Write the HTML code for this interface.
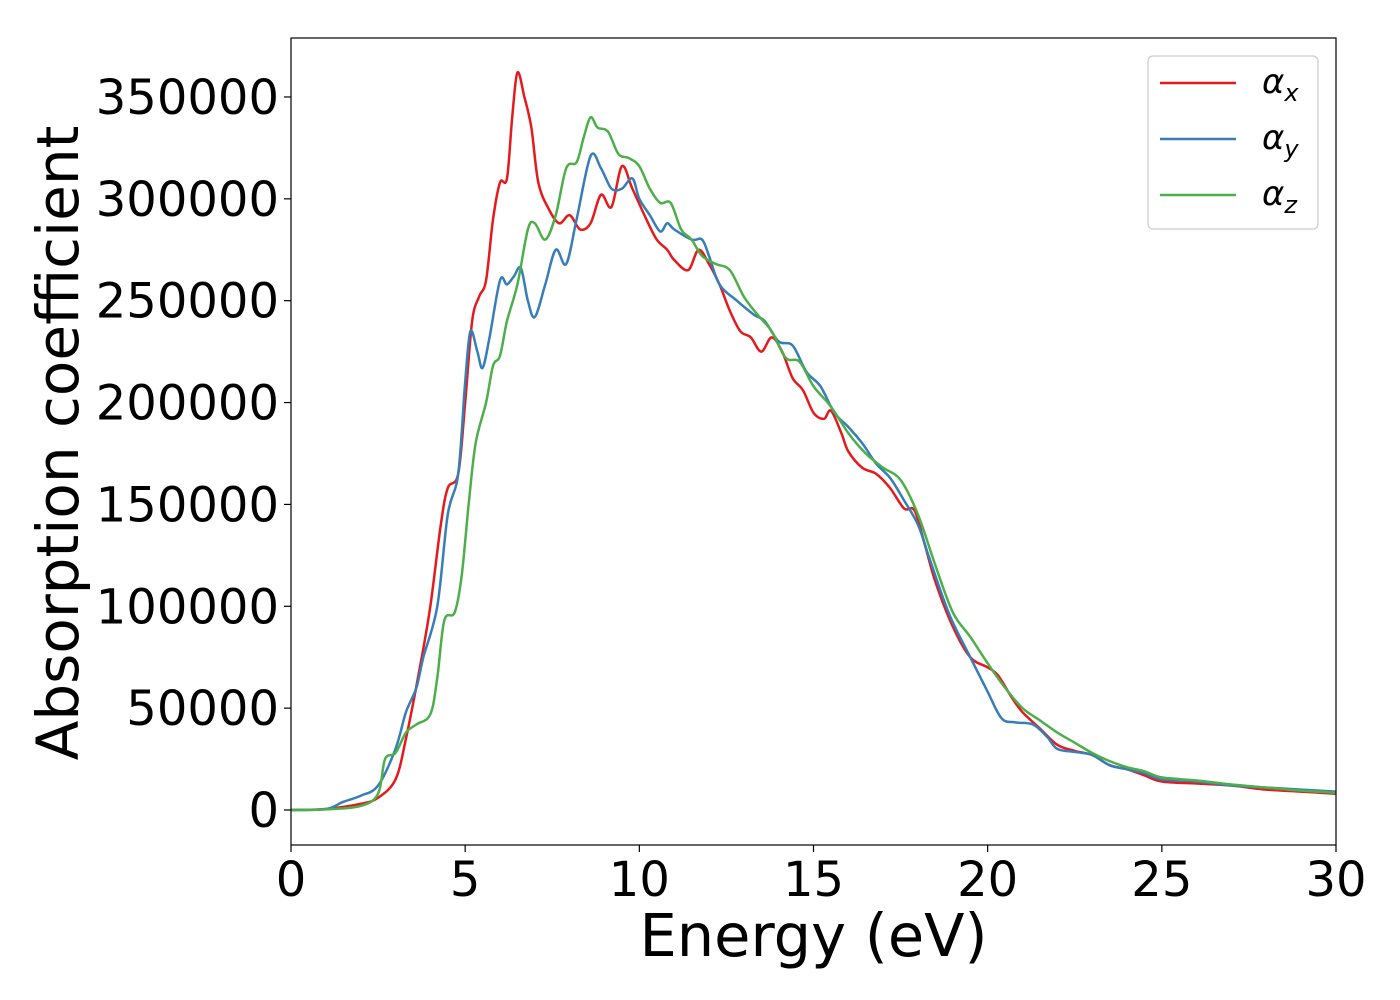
<!DOCTYPE html>
<html><head><meta charset="utf-8"><style>
html,body{margin:0;padding:0;background:#fff;width:1400px;height:1000px;overflow:hidden}
text{font-family:"DejaVu Sans","Liberation Sans",sans-serif}
</style></head><body>
<svg id="chart" width="1400" height="1000" xmlns="http://www.w3.org/2000/svg">
<g id="plot"></g>
</svg>
<script>
const xTicks=[0,5,10,15,20,25,30];
const yTicks=[0,50000,100000,150000,200000,250000,300000,350000];
const xE=[0,1,2,2.5,3,3.3,3.7,4,4.3,4.5,4.8,5,5.2,5.4,5.6,5.8,6,6.2,6.35,6.5,6.7,6.9,7.1,7.4,7.7,8,8.3,8.6,8.9,9.2,9.5,9.8,10.2,10.5,10.8,11,11.4,11.7,12,12.3,12.6,12.9,13.2,13.5,13.8,14.1,14.4,14.7,15,15.3,15.5,15.8,16,16.4,16.8,17.2,17.6,17.9,18.2,18.5,19,19.5,20,20.3,20.7,21,21.5,22,22.5,23,23.5,24,24.5,25,26,27,28,29,30];
const xV=[0,500,3000,6000,15000,35000,70000,100000,140000,158000,165000,200000,240000,252000,260000,290000,308000,310000,340000,362000,350000,335000,308000,295000,288000,292000,285000,288000,302000,296000,316000,305000,290000,280000,275000,270000,265000,275000,268000,258000,245000,235000,232000,225000,232000,225000,212000,206000,195000,192000,196000,185000,176000,168000,165000,158000,148000,147000,130000,112000,90000,75000,70000,66000,55000,48000,40000,32000,29000,27000,22000,20000,17000,14000,13000,12000,10000,9000,8000];
const yE=[0,1,1.5,2,2.5,3,3.3,3.6,3.8,4.2,4.5,4.8,5,5.15,5.35,5.5,5.7,6,6.2,6.4,6.6,6.8,7,7.3,7.6,7.9,8.2,8.6,8.9,9.2,9.5,9.8,10,10.3,10.6,10.8,11,11.5,11.8,12,12.3,12.8,13.3,13.6,14,14.4,14.8,15.2,15.6,16,16.4,16.8,17.2,17.6,18,18.3,18.7,19,19.5,20,20.4,20.8,21.3,21.7,22,22.5,23,23.5,24,24.5,25,26,27,28,29,30];
const yV=[0,500,4000,7000,12000,30000,48000,60000,75000,100000,145000,165000,210000,235000,225000,217000,232000,260000,258000,262000,266000,250000,242000,258000,275000,268000,290000,321000,315000,305000,305000,310000,300000,292000,284000,288000,285000,280000,280000,272000,258000,250000,243000,240000,230000,228000,215000,208000,195000,188000,180000,170000,163000,152000,140000,125000,105000,92000,75000,58000,45000,43000,42000,36000,30000,28500,27000,22000,20000,18000,15000,14000,12000,11000,10000,9000];
const zE=[0,1,2,2.5,2.7,3,3.3,3.6,4,4.2,4.4,4.7,4.9,5.1,5.3,5.6,5.8,6,6.2,6.5,6.8,7,7.3,7.6,7.9,8.2,8.4,8.6,8.8,9.1,9.4,9.7,10,10.3,10.6,10.9,11.2,11.5,11.8,12.2,12.6,13,13.4,13.8,14.2,14.6,15,15.5,16,16.5,17,17.5,18,18.5,19,19.5,20,20.5,21,21.5,22,22.5,23,23.5,24,24.5,25,26,27,28,29,30];
const zV=[0,300,2000,8000,25000,28000,38000,42000,47000,65000,93000,97000,115000,150000,180000,200000,218000,223000,240000,258000,285000,288000,280000,292000,315000,318000,330000,340000,335000,333000,322000,320000,316000,305000,298000,298000,285000,280000,272000,268000,265000,252000,243000,235000,222000,220000,208000,198000,185000,175000,168000,162000,145000,120000,97000,85000,72000,60000,50000,44000,38000,33000,28000,24000,21000,19000,16000,14500,12500,11000,9500,8500];
const series=[{n:'alpha-x',e:xE,v:xV,c:'#e41a1c',s:'x'},{n:'alpha-y',e:yE,v:yV,c:'#377eb8',s:'y'},{n:'alpha-z',e:zE,v:zV,c:'#4daf4a',s:'z'}];
const L=291,R=1336,T=38,B=845;
const sx=e=>L+(e/30)*(R-L);
const sy=v=>810-(v/50000)*101.86;
const NS='http://www.w3.org/2000/svg';
const g=document.getElementById('plot');
function mk(t,a,p){const el=document.createElementNS(NS,t);for(const k in a)el.setAttribute(k,a[k]);(p||g).appendChild(el);return el;}
function path(pts){let d='M'+pts[0][0]+','+pts[0][1];for(let i=0;i<pts.length-1;i++){const p0=pts[i-1]||pts[i],p1=pts[i],p2=pts[i+1],p3=pts[i+2]||p2;const c1x=p1[0]+(p2[0]-p0[0])/6,c1y=p1[1]+(p2[1]-p0[1])/6,c2x=p2[0]-(p3[0]-p1[0])/6,c2y=p2[1]-(p3[1]-p1[1])/6;d+=' C'+c1x+','+c1y+' '+c2x+','+c2y+' '+p2[0]+','+p2[1];}return d;}
const clip=mk('clipPath',{id:'clp'});mk('rect',{x:L,y:T,width:R-L,height:B-T},clip);
series.forEach(s=>{const p=mk('path',{d:path(s.e.map((e,i)=>[sx(e),sy(s.v[i])])),fill:'none',stroke:s.c,'stroke-width':2.5,'clip-path':'url(#clp)'});

});
const fr=mk('rect',{x:L,y:T,width:R-L,height:B-T,fill:'none',stroke:'#000','stroke-width':1.2});


xTicks.forEach(t=>{mk('line',{x1:sx(t),x2:sx(t),y1:B,y2:B+7,stroke:'#000','stroke-width':1.2});
const tx=mk('text',{x:sx(t),y:B+51,'font-size':48,'text-anchor':'middle'});tx.textContent=t;

});
yTicks.forEach(t=>{mk('line',{x1:L,x2:L-7,y1:sy(t),y2:sy(t),stroke:'#000','stroke-width':1.2});
const tx=mk('text',{x:L-12,y:sy(t)+17,'font-size':48,'text-anchor':'end'});tx.textContent=t;

});
const xt=mk('text',{x:(L+R)/2,y:956,'font-size':59,'text-anchor':'middle'});xt.textContent='Energy (eV)';


const yt=mk('text',{x:0,y:0,'font-size':58,'text-anchor':'middle',transform:'translate(78,443) rotate(-90)'});yt.textContent='Absorption coefficient';


const lg=mk('g',{});


mk('rect',{x:1148,y:56,width:170,height:173,rx:5,fill:'#fff',stroke:'#ccc','stroke-width':1.2},lg);
series.forEach((s,i)=>{const y=83+i*56;mk('line',{x1:1160,x2:1236,y1:y,y2:y,stroke:s.c,'stroke-width':2.5},lg);
const t=mk('text',{x:1262,y:y+10,'font-size':34,'font-style':'italic'},lg);t.textContent='α';
const sub=mk('tspan',{'font-size':24,dy:8},t);sub.textContent=s.s;

});
</script>
</body></html>
